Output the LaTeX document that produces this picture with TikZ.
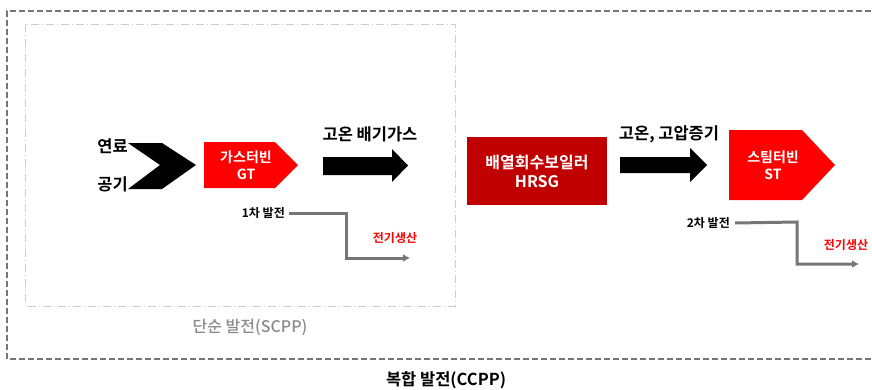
\documentclass[tikz,border=0pt]{standalone}
\usepackage{fontspec}
\setmainfont{Noto Sans CJK KR}[BoldFont={* Bold}]
\newfontfamily\krmed{Noto Sans CJK KR Medium}
\definecolor{gtred}{HTML}{FF0000}
\definecolor{hrsgred}{HTML}{C00000}
\definecolor{lgray}{HTML}{767676}
\definecolor{dgray}{HTML}{CCCCCC}
\definecolor{tgray}{HTML}{8A8A8A}
\usetikzlibrary{arrows.meta}
\tikzset{
  lbl/.style={inner sep=0pt, font=\bfseries\fontsize{16.5}{18}\selectfont},
  boxtxt/.style={inner sep=0pt, text=white, align=center, font=\bfseries\fontsize{14}{17}\selectfont},
  small/.style={inner sep=0pt, font=\bfseries\fontsize{12}{14}\selectfont},
  gen/.style={inner sep=0pt, text=gtred, font=\bfseries\fontsize{12}{14}\selectfont},
  genline/.style={draw=lgray, line width=3pt, -{Latex[length=7pt,width=8pt]}},
}
\begin{document}
\begin{tikzpicture}[x=1pt,y=-1pt]
\useasboundingbox (0,0) rectangle (872,389);
% outer dashed box (open on the right)
\draw[lgray, line width=2pt, dash pattern=on 6pt off 3pt] (880,11) -- (7,11) -- (7,359) -- (880,359);
% inner dash-dot box
\draw[dgray, line width=1pt, dash pattern=on 8pt off 3pt on 1pt off 3pt] (25,24) rectangle (455,306);
% chevron
\fill[black] (128,143) -- (162,143) -- (196,165) -- (162,189) -- (128,189) -- (160,165) -- cycle;
\node[lbl, anchor=east] (fuel) at (128,146) {연료};
\node[lbl, anchor=east] (air) at (128,184) {공기};
% GT pentagon
\fill[gtred] (204,142) -- (275,142) -- (298,165) -- (275,188) -- (204,188) -- cycle;
\node[boxtxt] (gt) at (246,165) {가스터빈\\GT};
% arrow 1
\fill[black] (323,157) -- (392,157) -- (392,149) -- (408,165.5) -- (392,182) -- (392,175) -- (323,175) -- cycle;
\node[lbl] (exh) at (370,134) {고온 배기가스};
% HRSG box
\node[fill=hrsgred, minimum width=140pt, minimum height=68pt, inner sep=0pt] (hrsg) at (537,171) {};
\node[boxtxt, font=\bfseries\fontsize{16}{19}\selectfont] (hrsgt) at (537,171) {배열회수보일러\\HRSG};
% arrow 2
\fill[black] (620,157) -- (690,157) -- (690,148) -- (707,165) -- (690,182) -- (690,173) -- (620,173) -- cycle;
\node[lbl] (steam) at (669,134) {고온, 고압증기};
% ST pentagon
\fill[gtred] (729,130) -- (802,130) -- (835,165) -- (802,200) -- (729,200) -- cycle;
\node[boxtxt] (st) at (773,165) {스팀터빈\\ST};
% 1st generation
\node[small, anchor=east] (g1) at (285,213) {1차 발전};
\coordinate (g1a) at (346,213);
\coordinate (g1b) at (346,258);
\coordinate (g1c) at (410,258);
\draw[genline] ([xshift=4pt]g1.east) -- (g1a) -- (g1b) -- (g1c);
\node[gen] (e1) at (395,238) {전기생산};
% 2nd generation
\node[small, anchor=east] (g2) at (730,223) {2차 발전};
\coordinate (g2a) at (797,222);
\coordinate (g2b) at (797,264);
\coordinate (g2c) at (859,264);
\draw[genline] ([xshift=5pt]g2.east) -- (g2a) -- (g2b) -- (g2c);
\node[gen] (e2) at (846,245) {전기생산};
% captions
\node[inner sep=0pt, text=tgray, font=\krmed\fontsize{16}{18}\selectfont] (scpp) at (250,327) {단순 발전(SCPP)};
\node[inner sep=0pt, font=\bfseries\fontsize{16.5}{18}\selectfont] (ccpp) at (446,380) {복합 발전(CCPP)};
\end{tikzpicture}
\end{document}
